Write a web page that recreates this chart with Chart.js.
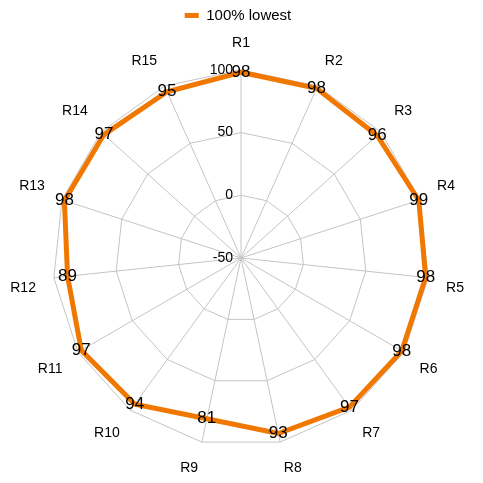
<!DOCTYPE html>
<html>
<head>
<meta charset="utf-8">
<script src="https://cdn.jsdelivr.net/npm/chart.js@4"></script>
<style>
  html, body { margin: 0; padding: 0; background: #fff; }
  #wrap { width: 483px; height: 483px; }
</style>
</head>
<body>
<div id="wrap"><canvas id="radar"></canvas></div>
<script>
const labels = ['R1', 'R2', 'R3', 'R4', 'R5', 'R6', 'R7', 'R8', 'R9', 'R10', 'R11', 'R12', 'R13', 'R14', 'R15'];
const lowest = [98, 98, 96, 99, 98, 98, 97, 93, 81, 94, 97, 89, 98, 97, 95];
const tickValues = [-50, 0, 50, 100];

const fontFamily = '"Liberation Sans", Arial, Helvetica, sans-serif';

// draws the value on each point and the tick numbers left of the axis
const valueLabels = {
    id: 'valueLabels',
    afterDatasetsDraw(chart) {
        const ctx = chart.ctx;
        const scale = chart.scales.r;
        ctx.save();
        ctx.fillStyle = '#000';
        ctx.font = '14px ' + fontFamily;
        ctx.textAlign = 'right';
        ctx.textBaseline = 'middle';
        tickValues.forEach(v => {
            const d = scale.getDistanceFromCenterForValue(v);
            ctx.fillText(String(v), scale.xCenter - 8, scale.yCenter - d);
        });
        ctx.font = '17px ' + fontFamily;
        ctx.textAlign = 'center';
        const meta = chart.getDatasetMeta(0);
        meta.data.forEach((pt, i) => {
            ctx.fillText(String(lowest[i]), pt.x, pt.y);
        });
        ctx.restore();
    }
};

new Chart(document.getElementById('radar'), {
    type: 'radar',
    data: {
        labels: labels,
        datasets: [{
            label: '100% lowest',
            data: lowest,
            borderColor: '#f07800',
            backgroundColor: '#f07800',
            borderWidth: 5,
            fill: false,
            pointRadius: 0,
            pointHoverRadius: 0
        }]
    },
    options: {
        responsive: true,
        maintainAspectRatio: false,
        animation: false,
        layout: { padding: { top: 0, bottom: 4, left: 0, right: 7 } },
        plugins: {
            legend: {
                position: 'top',
                labels: {
                    usePointStyle: true,
                    pointStyle: 'line',
                    pointStyleWidth: 14,
                    boxHeight: 5,
                    padding: 8,
                    color: '#000',
                    font: { family: fontFamily, size: 15 }
                }
            },
            tooltip: { enabled: false }
        },
        scales: {
            r: {
                min: -50,
                max: 100,
                ticks: { stepSize: 50, display: false },
                grid: { color: '#c4c4c4', lineWidth: 1 },
                angleLines: { color: '#c4c4c4', lineWidth: 1 },
                pointLabels: {
                    color: '#000',
                    padding: 18,
                    font: { family: fontFamily, size: 14 }
                }
            }
        }
    },
    plugins: [valueLabels]
});
</script>
</body>
</html>
